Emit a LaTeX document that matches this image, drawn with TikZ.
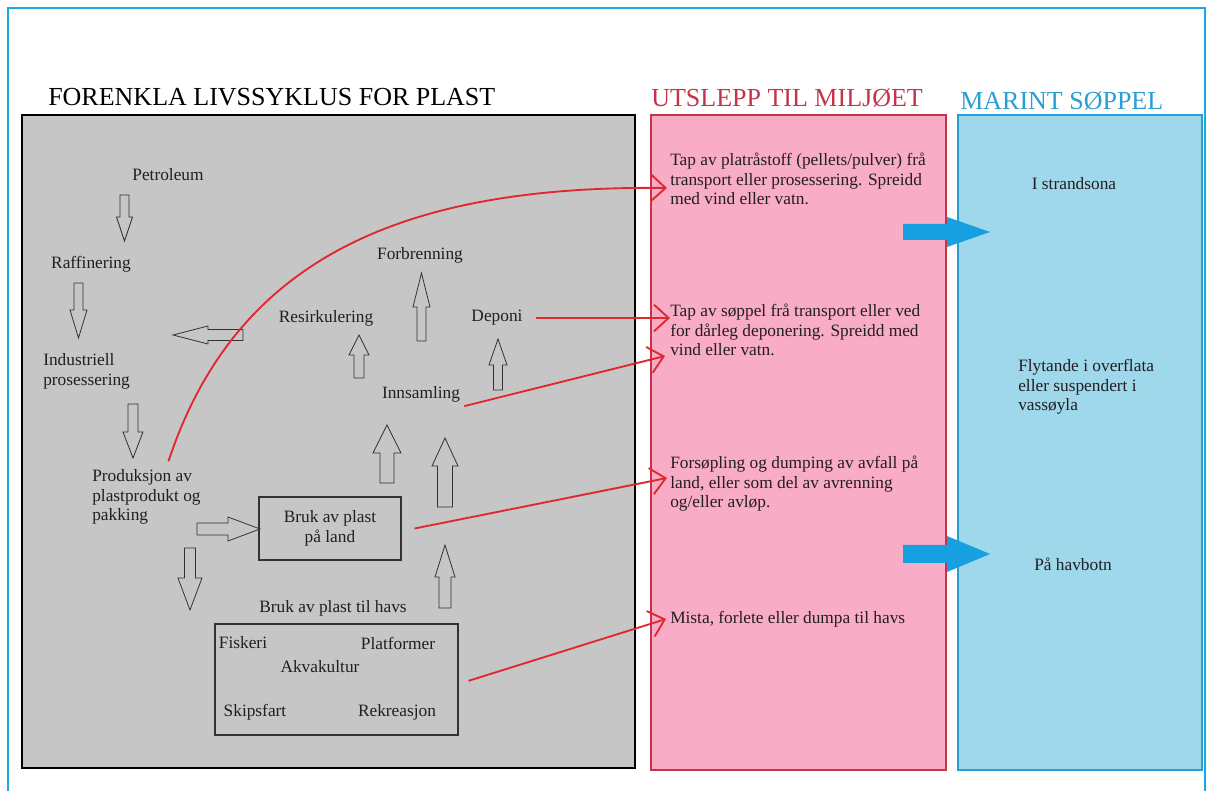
\documentclass[tikz,border=0pt]{standalone}
\usepackage{fontspec}
\setmainfont{Liberation Serif}
\usetikzlibrary{arrows.meta, positioning}
\definecolor{boxgray}{RGB}{198,198,198}
\definecolor{leakpink}{RGB}{249,172,198}
\definecolor{leakedge}{RGB}{196,52,72}
\definecolor{seablue}{RGB}{158,216,234}
\definecolor{seaedge}{RGB}{42,158,210}
\definecolor{framecol}{RGB}{24,168,228}
\definecolor{leakred}{RGB}{224,40,48}
\definecolor{flowblue}{RGB}{22,160,226}
\definecolor{textdark}{RGB}{34,30,34}
\definecolor{arrowline}{RGB}{50,50,50}
\tikzset{pics/hollowarrow/.style n args={4}{code={
  \path[pic actions] (0,-#2) -- ({#1-#4},-#2) -- ({#1-#4},-#3) -- (#1,0) -- ({#1-#4},#3) -- ({#1-#4},#2) -- (0,#2) -- cycle;
}}}

\begin{document}
\begin{tikzpicture}[x=0.75pt, y=-0.75pt,
  stage/.style={font=\fontsize{13}{14.6}\selectfont, text=textdark, inner sep=0pt},
  note/.style={stage, align=left, anchor=west},
  heading/.style={font=\fontsize{19.5}{22}\selectfont, inner sep=0pt, anchor=west},
  column/.style={line width=1.8pt},
  usebox/.style={stage, draw=arrowline, line width=0.8pt, align=center},
  hollow/.style={draw=arrowline, line width=0.6pt},
  flow/.style={fill=flowblue},
  leak/.style={draw=leakred, line width=1.4pt, -{Straight Barb[length=11pt, width=20pt]}}]
\useasboundingbox (0,0) rectangle (1208,791);
\clip (0,0) rectangle (1208,791);
\draw[framecol, line width=1.5pt] (8,795) -- (8,8) -- (1205,8) -- (1205,795);

% the three columns
\draw[column, fill=boxgray] (22,115) rectangle (635,768);
\draw[column, draw=leakedge, fill=leakpink] (651,115) rectangle (946,770);
\draw[column, draw=seaedge, fill=seablue] (958,115) rectangle (1202,770);

\node[heading] (title) at (48,97) {FORENKLA LIVSSYKLUS FOR PLAST};
\node[heading, text=leakedge] (utslepp) at (651,98) {UTSLEPP TIL MILJØET};
\node[heading, text=seaedge] (marint) at (960,101) {MARINT SØPPEL};

% life cycle
\node[stage] (petroleum) at (168,175) {Petroleum};
\node[stage] (raff) at (91,264) {Raffinering};
\node[note] (industri) at (43,371.5) {Industriell\\prosessering};
\node[note] (prod) at (92,497) {Produksjon av\\plastprodukt og\\pakking};
\node[stage] (forbrenning) at (420,255) {Forbrenning};
\node[stage] (resirk) at (326,318) {Resirkulering};
\node[stage] (deponi) at (497,318) {Deponi};
\node[stage] (innsamling) at (421,394) {Innsamling};
\node[usebox, minimum width=106.5pt, minimum height=47.25pt] (land) at (330,528.5) {Bruk av plast\\på land};
\node[stage] (havstitle) at (333,608) {Bruk av plast til havs};
\node[usebox, minimum width=182.25pt, minimum height=83.25pt] (havs) at (336.5,679.5) {};
\node[stage] (fiskeri) at (243,643) {Fiskeri};
\node[stage] (platform) at (398,643) {Platformer};
\node[stage] (akva) at (320,667) {Akvakultur};
\node[stage] (skip) at (255,712) {Skipsfart};
\node[stage] (rekreasjon) at (397,712) {Rekreasjon};

\pic[hollow, rotate=-90] at (124.5,195) {hollowarrow={46}{4.5}{8}{24}};
\pic[hollow, rotate=-90] at (78.5,283) {hollowarrow={55}{4.5}{8.5}{28}};
\pic[hollow, rotate=-90] at (133,404) {hollowarrow={54}{5}{10}{26}};
\pic[hollow, rotate=180] at (243,335) {hollowarrow={70}{5.5}{9}{35}};
\pic[hollow] at (197,529) {hollowarrow={63}{6}{12}{32}};
\pic[hollow, rotate=-90] at (190,548) {hollowarrow={62}{5.5}{12}{32}};
\pic[hollow, rotate=90] at (445,608) {hollowarrow={63}{6}{10}{32}};
\pic[hollow, rotate=90] at (445,507) {hollowarrow={69}{7.5}{13}{28}};
\pic[hollow, rotate=90] at (387,483) {hollowarrow={58}{7}{14}{28}};
\pic[hollow, rotate=90] at (359,378) {hollowarrow={43}{5}{10}{20}};
\pic[hollow, rotate=90] at (421.5,341) {hollowarrow={68}{4.5}{8.5}{34}};
\pic[hollow, rotate=90] at (498,390) {hollowarrow={51}{4.5}{9}{26}};

% releases to the environment
\node[note] (tap1) at (670,179) {Tap av platråstoff (pellets/pulver) frå\\transport eller prosessering. Spreidd\\med vind eller vatn.};
\node[note] (tap2) at (670,330) {Tap av søppel frå transport eller ved\\for dårleg deponering. Spreidd med\\vind eller vatn.};
\node[note] (forsopling) at (670,484) {Forsøpling og dumping av avfall på\\land, eller som del av avrenning\\og/eller avløp.};
\node[note] (mista) at (670,619) {Mista, forlete eller dumpa til havs};

% marine litter
\node[stage] (strand) at (1074,184) {I strandsona};
\node[note] (flytande) at (1018,387) {Flytande i overflata\\eller suspendert i\\vassøyla};
\node[stage] (havbotn) at (1073,564) {På havbotn};

\coordinate (in1) at (667,188);
\coordinate (in2) at (670,318);
\coordinate (in3) at (665,356);
\coordinate (in4) at (667,478);
\coordinate (in5) at (666,619);
\draw[leak] ([xshift=16.5pt, yshift=6pt]prod.north) .. controls (235,260) and (400,185) .. (in1);
\draw[leak] ([xshift=10pt]deponi.east) -- (in2);
\draw[leak] ([xshift=3pt, yshift=-3pt]innsamling.south east) -- (in3);
\draw[leak] ([xshift=9.75pt]land.east) -- (in4);
\draw[leak] ([xshift=7.5pt, yshift=-1pt]havs.east) -- (in5);

\pic[flow] at (903,232) {hollowarrow={87}{8}{15}{43}};
\pic[flow] at (903,554) {hollowarrow={87}{9}{18}{43}};
\end{tikzpicture}
\end{document}
